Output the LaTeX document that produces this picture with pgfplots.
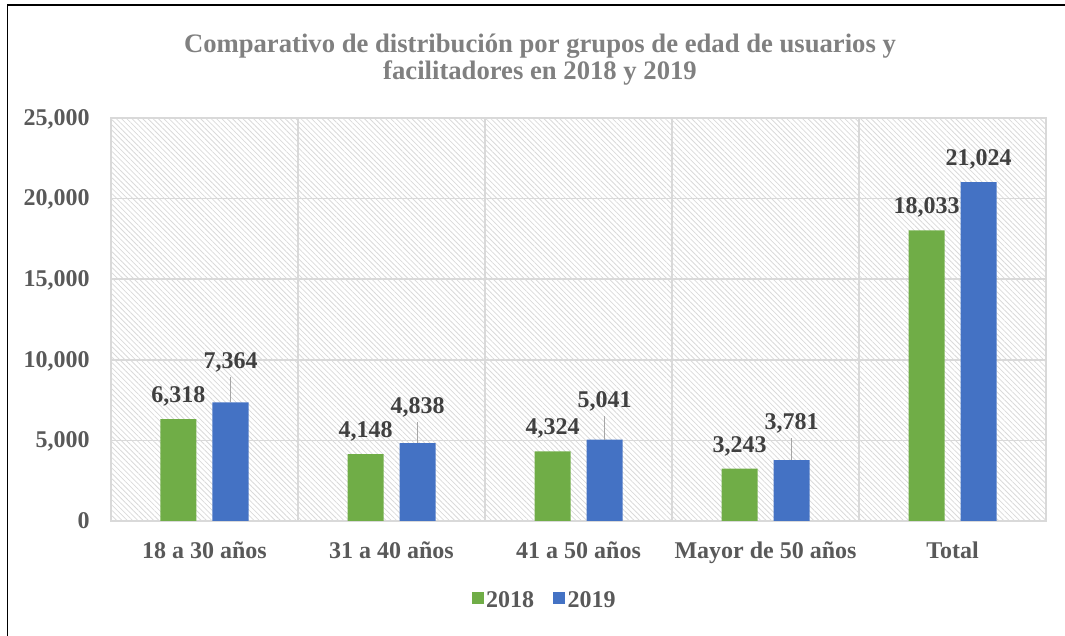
\documentclass[border=0pt]{standalone}
\usepackage{fontspec}
\setmainfont{Liberation Serif}
\usepackage{pgfplots}
\usepackage{pgfplotstable}
\pgfplotsset{compat=1.18}
\usetikzlibrary{patterns.meta}

\definecolor{bar2018}{RGB}{112,173,71}
\definecolor{bar2019}{RGB}{68,114,196}
\definecolor{gridgray}{RGB}{217,217,217}
\definecolor{hatch}{RGB}{218,218,218}
\definecolor{ticktext}{RGB}{89,89,89}
\definecolor{labeltext}{RGB}{64,64,64}
\definecolor{titletext}{RGB}{128,128,128}
\definecolor{leader}{RGB}{166,166,166}

% label offsets (off) in pt above the bar top, to the label baseline
\pgfplotstableread{
x y off
0 6318 12.4
1 4148 12.4
2 4324 12.4
3 3243 12.4
4 18033 12.4
}\dataA
\pgfplotstableread{
x y off
0 7364 25.3
1 4838 22.2
2 5041 24.1
3 3781 22.6
4 21024 12.1
}\dataB

\newcommand{\lblfont}{\fontsize{18}{21}\selectfont\bfseries}

\begin{document}
\begin{tikzpicture}[x=0.75pt,y=0.75pt]
\path[use as bounding box] (0,0) rectangle (1065,636);
\draw[line width=1.4pt] (7.5,0) -- (7.5,631) -- (1065,631);

\node[align=center, text=titletext, font=\fontsize{20}{20.25}\selectfont\bfseries]
  at (540,576) {Comparativo de distribución por grupos de edad de usuarios y\\facilitadores en 2018 y 2019};

\begin{axis}[
    at={(83.25pt,86.25pt)}, anchor=south west,
    scale only axis,
    width=701.25pt, height=302.25pt,
    ybar=12pt, bar width=27pt,
    xmin=-0.5, xmax=4.5,
    ymin=0, ymax=25000,
    xtick={0,1,2,3,4},
    xticklabels={18 a 30 años, 31 a 40 años, 41 a 50 años, Mayor de 50 años, Total},
    minor xtick={0.5,1.5,2.5,3.5},
    ytick={0,5000,10000,15000,20000,25000},
    major tick length=0pt, minor tick length=0pt,
    ymajorgrids=true, xminorgrids=true,
    grid style={draw=gridgray, line width=1.1pt},
    minor grid style={draw=gridgray, line width=1.1pt},
    axis line style={draw=gridgray, line width=1.1pt},
    axis background/.style={pattern={Lines[angle=-45,distance=2.8pt,line width=0.6pt]}, pattern color=hatch},
    scaled y ticks=false,
    /pgf/number format/assume math mode=true,
    yticklabel={\pgfmathprintnumber[fixed,1000 sep={,}]{\tick}},
    yticklabel style={anchor=base east, inner sep=0pt, xshift=-15.75pt, yshift=-5.5pt, text=ticktext, font=\lblfont},
    xticklabel style={anchor=base, inner sep=0pt, yshift=-27.75pt, text=ticktext, font=\lblfont},
    nodes near coords={\pgfmathprintnumber[fixed,1000 sep={,},assume math mode=true]{\pgfplotspointmeta}},
    visualization depends on={\thisrow{off} \as \labeloff},
    every node near coord/.append style={anchor=base, inner sep=0pt, yshift=\labeloff pt, text=labeltext, font=\lblfont},
    legend style={at={(0.464,-0.1985)}, anchor=center, draw=none, fill=none,
        legend columns=2, font=\lblfont, text=ticktext,
        /tikz/every even column/.append style={column sep=12pt}},
    legend image code/.code={\fill[#1] (-2.5pt,-0.25em) rectangle (6.5pt,9pt-0.25em);},
    clip=false,
]
\addplot[draw=none, fill=bar2018] table[x=x, y=y] {\dataA};
\addlegendentry{2018}
\addplot[draw=none, fill=bar2019] table[x=x, y=y] {\dataB};
\addlegendentry{2019}

% leader lines of the 2019 labels
\draw[leader, line width=1pt] ([xshift=19.5pt]axis cs:0,7364) -- ++(0pt,19.3pt);
\draw[leader, line width=1pt] ([xshift=19.5pt]axis cs:1,4838) -- ++(0pt,16.1pt);
\draw[leader, line width=1pt] ([xshift=19.5pt]axis cs:2,5041) -- ++(0pt,18pt);
\draw[leader, line width=1pt] ([xshift=19.5pt]axis cs:3,3781) -- ++(0pt,16.5pt);
\end{axis}
\end{tikzpicture}
\end{document}
